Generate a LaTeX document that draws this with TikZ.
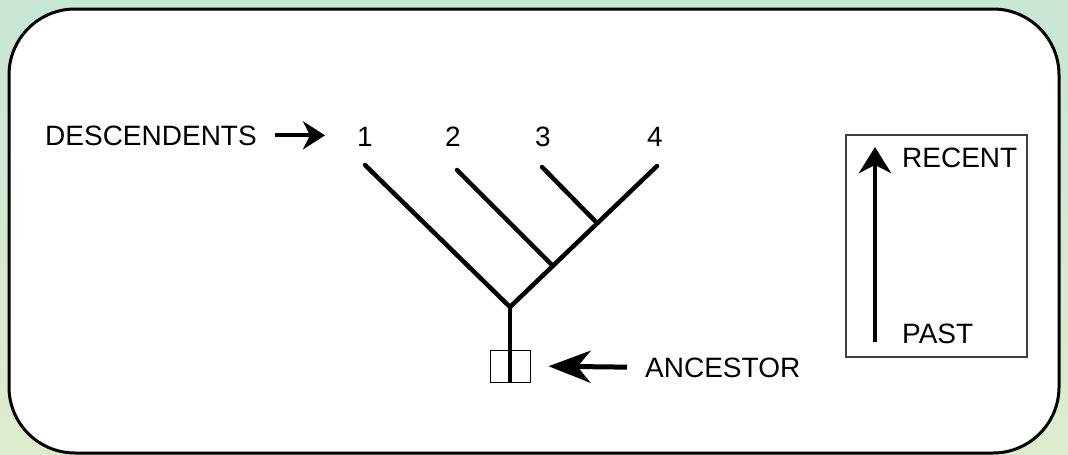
\documentclass[tikz,border=0pt]{standalone}
\usepackage{fontspec}
\setmainfont{Liberation Sans}
\usetikzlibrary{arrows.meta}

\definecolor{mint}{RGB}{200,230,212}
\definecolor{pale}{RGB}{222,236,204}

\begin{document}
\begin{tikzpicture}
	[x=1pt,y=-1pt,every node/.style={inner sep=0pt,font=\fontsize{28}{30}\selectfont},
	 branch/.style={line width=4.5pt,line cap=round},
	 pointer/.style={line width=4pt,-{Stealth[length=22pt,width=28pt,inset=7pt]}}]
	\shade[top color=mint,bottom color=pale] (0,0) rectangle (1068,455);
	\draw[line width=3pt,fill=white,rounded corners=66pt] (9,9) rectangle (1059,453);

	\node[anchor=base west] (desc) at (45,145) {DESCENDENTS};
	\node (n1) at (365,137) {1};
	\node (n2) at (453,137) {2};
	\node (n3) at (543,137) {3};
	\node (n4) at (655,137) {4};
	\draw[pointer,shorten <=18pt,shorten >=32pt] (desc.east) -- (desc.east -| n1.west);

	\coordinate (t1) at (365,165);
	\coordinate (t2) at (457,170);
	\coordinate (t3) at (542,167);
	\coordinate (t4) at (657,166);
	\coordinate (j2) at (553,266);
	\coordinate (j3) at (597,223);
	\coordinate (root) at (510,307);
	\draw[branch] (t1) -- (root);
	\draw[branch] (t4) -- (root);
	\draw[branch] (t2) -- (j2);
	\draw[branch] (t3) -- (j3);

	\node[draw,line width=1pt,minimum width=40pt,minimum height=32pt] (box) at (510,366) {};
	\draw[line width=4.5pt] (root) -- (box.south);
	\node[anchor=base west] (anc) at (645,377) {ANCESTOR};
	\draw[line width=5pt,-{Stealth[length=42pt,width=32pt,inset=13pt]},shorten <=18pt,shorten >=18pt] (anc.west) -- (box.east);

	\node[draw=black!75,line width=2pt,minimum width=181pt,minimum height=222pt] (scale) at (936.5,246) {};
	\coordinate (past) at (875,342);
	\coordinate (recent) at (875,147);
	\draw[line width=4.5pt,-{Stealth[length=26pt,width=32pt,inset=8pt]}] (past) -- (recent);
	\node[anchor=base west] at (902,167) {RECENT};
	\node[anchor=base west] at (902,343) {PAST};
\end{tikzpicture}
\end{document}
